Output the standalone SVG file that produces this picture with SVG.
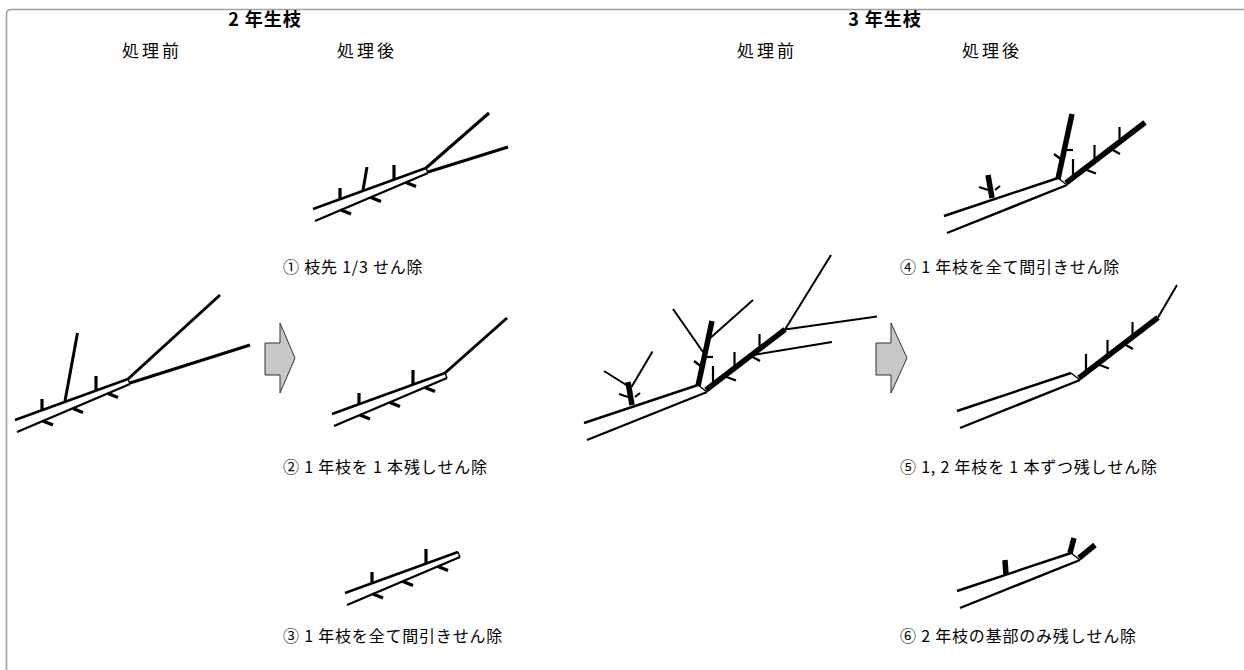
<svg xmlns="http://www.w3.org/2000/svg" xmlns:xlink="http://www.w3.org/1999/xlink" width="1244" height="670" viewBox="0 0 1244 670">
  <style>
    .frame { fill: none; stroke: #a0a0a0; stroke-width: 1.6; }
    .title { font-family: "Noto Sans CJK JP", "Liberation Sans", sans-serif; font-size: 18px; font-weight: bold; letter-spacing: 1px; fill: #000; text-anchor: middle; }
    .head { font-family: "Noto Sans CJK JP", "Liberation Sans", sans-serif; font-size: 17px; letter-spacing: 3px; fill: #000; text-anchor: middle; }
    .label { font-family: "Noto Sans CJK JP", "Liberation Sans", sans-serif; font-size: 16px; letter-spacing: 0.8px; fill: #000; }
    .wood { stroke: #000; fill: none; stroke-linecap: butt; }
    .band { stroke-width: 2.4; }
    .cap { stroke-width: 1.4; }
    .shoot { stroke-width: 3; }
    .twig { stroke-width: 2; }
    .spur { stroke-width: 3.2; }
    .tick { stroke-width: 2.2; }
    .thick { stroke-width: 5.5; }
    .arrow { fill: #c8c8c8; stroke: #333; stroke-width: 1; }
  </style>
  <defs>
    <!-- two-year limb: outlined band with short spurs -->
    <g id="limb2" class="wood">
      <line class="band" x1="15" y1="420" x2="128" y2="379"/>
      <line class="band" x1="17" y1="432" x2="130" y2="384"/>
      <line class="cap" x1="128" y1="379" x2="130" y2="384"/>
      <line class="spur" x1="42" y1="399" x2="42" y2="410.5"/>
      <line class="spur" x1="96" y1="376" x2="96" y2="390.8"/>
      <line class="spur" x1="43" y1="421" x2="53" y2="425"/>
      <line class="spur" x1="73" y1="408.5" x2="83" y2="412.5"/>
      <line class="spur" x1="108" y1="393.5" x2="118" y2="397.5"/>
    </g>
    <!-- three-year limb: band with cap -->
    <g id="limb3" class="wood">
      <line class="band" x1="584" y1="423" x2="698" y2="385"/>
      <line class="band" x1="587" y1="440" x2="707" y2="392"/>
      <line class="cap" x1="698" y1="385" x2="707" y2="392"/>
    </g>
    <!-- two-year branch on the three-year limb, with its spurs -->
    <g id="arm3" class="wood">
      <line class="thick" x1="706" y1="390" x2="785" y2="329.5"/>
      <line class="tick" x1="713" y1="366" x2="713" y2="385"/>
      <line class="tick" x1="734.5" y1="352" x2="734.5" y2="368"/>
      <line class="tick" x1="759.5" y1="334" x2="759.5" y2="349"/>
      <line class="tick" x1="724" y1="376" x2="736" y2="380.5"/>
      <line class="tick" x1="751" y1="356" x2="760" y2="361"/>
    </g>
    <!-- upright two-year shoot and left stub -->
    <g id="upright3" class="wood">
      <line class="thick" x1="698" y1="386" x2="712" y2="321"/>
      <line class="tick" x1="694" y1="361" x2="702" y2="367"/>
      <line class="tick" x1="706" y1="357" x2="713" y2="357"/>
      <line class="thick" x1="632" y1="405" x2="628" y2="382"/>
      <line class="tick" x1="619" y1="394" x2="628" y2="397"/>
      <line class="tick" x1="635" y1="397" x2="640" y2="393"/>
    </g>
  </defs>

  <!-- outer frame -->
  <path class="frame" d="M6.5,670 V14 Q6.5,9.5 11,9.5 H1244"/>

  <!-- headings -->
  <g id="headings">
    <text class="title" x="265" y="26">2 年生枝</text>
    <text class="title" x="885" y="26">3 年生枝</text>
    <text class="head" x="152" y="57">処理前</text>
    <text class="head" x="367" y="57">処理後</text>
    <text class="head" x="767" y="57">処理前</text>
    <text class="head" x="992" y="57">処理後</text>
  </g>

  <!-- two-year branch before pruning -->
  <g id="y2-before" class="wood">
    <use href="#limb2"/>
    <line class="shoot" x1="128" y1="379" x2="220" y2="295"/>
    <line class="shoot" x1="130" y1="383" x2="250" y2="345"/>
    <line class="shoot" x1="65" y1="401" x2="77.5" y2="333"/>
  </g>

  <!-- (1) tips cut by a third -->
  <g id="y2-cut1" class="wood" transform="translate(298,-211)">
    <use href="#limb2"/>
    <line class="shoot" x1="128" y1="379" x2="191" y2="324"/>
    <line class="shoot" x1="130" y1="383" x2="210" y2="358"/>
    <line class="shoot" x1="65" y1="401" x2="69" y2="378"/>
  </g>
  <text id="t1" class="label" x="283" y="273">① 枝先 1/3 せん除</text>

  <!-- (2) one shoot kept -->
  <g id="y2-cut2" class="wood" transform="translate(317,-6)">
    <use href="#limb2"/>
    <line class="shoot" x1="128" y1="379" x2="190" y2="324"/>
  </g>
  <text id="t2" class="label" x="283" y="473">② 1 年枝を 1 本残しせん除</text>

  <!-- (3) all shoots thinned -->
  <g id="y2-cut3" class="wood" transform="translate(330,173)">
    <use href="#limb2"/>
  </g>
  <text id="t3" class="label" x="283" y="642">③ 1 年枝を全て間引きせん除</text>

  <!-- arrows -->
  <g id="arrows">
    <polygon class="arrow" points="265,343 280,343 280,323 295,358 280,393 280,375 265,375"/>
    <polygon class="arrow" points="876,343 891,343 891,323 907,358 891,393 891,375 876,375"/>
  </g>

  <!-- three-year branch before pruning -->
  <g id="y3-before" class="wood">
    <use href="#limb3"/>
    <use href="#arm3"/>
    <use href="#upright3"/>
    <line class="twig" x1="785" y1="329.5" x2="831" y2="255"/>
    <line class="twig" x1="785" y1="329.5" x2="877" y2="316.5"/>
    <line class="twig" x1="753" y1="355" x2="832" y2="342"/>
    <line class="twig" x1="708" y1="340" x2="753" y2="300"/>
    <line class="twig" x1="673" y1="309" x2="703" y2="352"/>
    <line class="twig" x1="604" y1="371" x2="629.5" y2="387"/>
    <line class="twig" x1="631.5" y1="387" x2="652.5" y2="351.5"/>
  </g>

  <!-- (4) all one-year shoots thinned -->
  <g id="y3-cut4" class="wood" transform="translate(360,-207)">
    <use href="#limb3"/>
    <use href="#arm3"/>
    <use href="#upright3"/>
  </g>
  <text id="t4" class="label" x="900" y="273">④ 1 年枝を全て間引きせん除</text>

  <!-- (5) one shoot of each age kept -->
  <g id="y3-cut5" class="wood" transform="translate(373,-12)">
    <use href="#limb3"/>
    <use href="#arm3"/>
    <line class="twig" x1="785" y1="329.5" x2="804" y2="297"/>
  </g>
  <text id="t5" class="label" x="900" y="473">⑤ 1, 2 年枝を 1 本ずつ残しせん除</text>

  <!-- (6) only the bases of the two-year shoots kept -->
  <g id="y3-cut6" class="wood" transform="translate(373,168)">
    <use href="#limb3"/>
    <line class="thick" x1="706" y1="390" x2="722" y2="377"/>
    <line class="thick" x1="697" y1="385" x2="701" y2="370"/>
    <line class="thick" x1="633" y1="407" x2="632" y2="392"/>
  </g>
  <text id="t6" class="label" x="900" y="642">⑥ 2 年枝の基部のみ残しせん除</text>
</svg>
